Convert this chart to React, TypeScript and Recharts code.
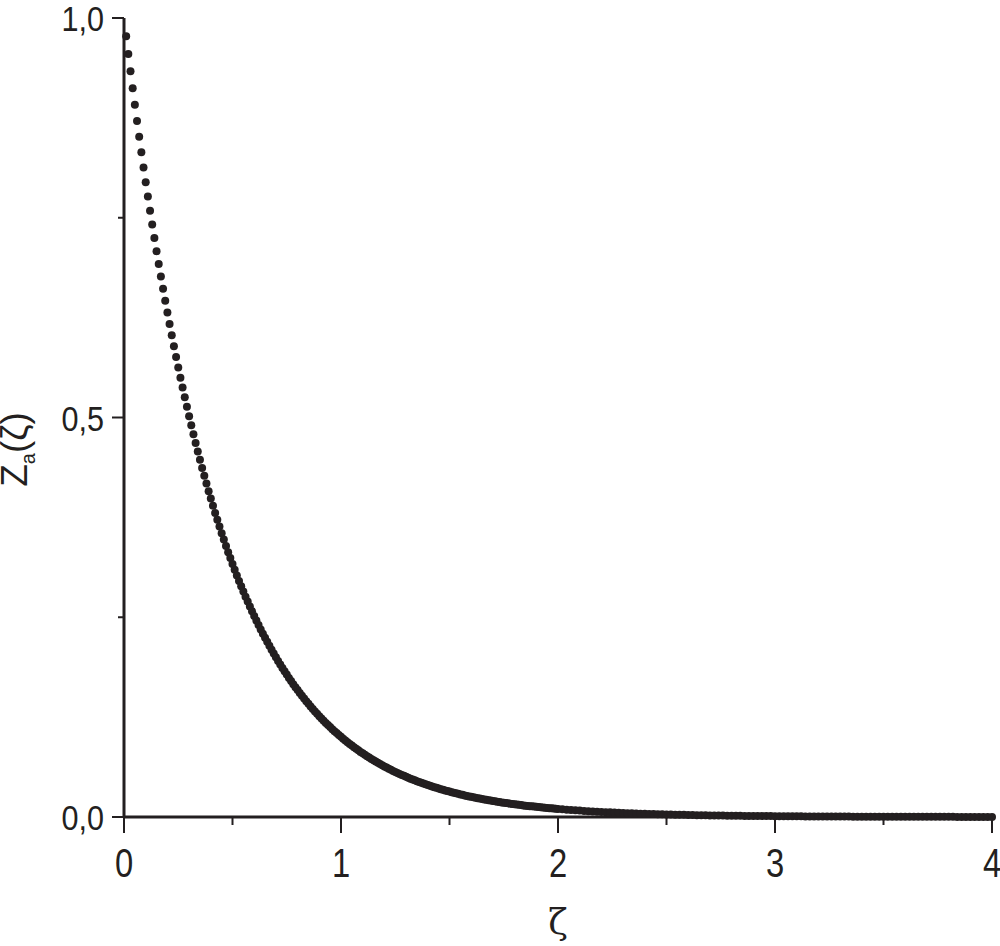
import React from 'react';
import { ScatterChart, Scatter, XAxis, YAxis, Label } from 'recharts';

const INK = '#231f20';
const FONT = '"Liberation Sans", Arial, sans-serif';
const NARROW = 0.82;

// ζ values, step 0.01 on 0.01–2.00
const zetaFine = [
  0.01, 0.02, 0.03, 0.04, 0.05, 0.06, 0.07, 0.08, 0.09, 0.10,
  0.11, 0.12, 0.13, 0.14, 0.15, 0.16, 0.17, 0.18, 0.19, 0.20,
  0.21, 0.22, 0.23, 0.24, 0.25, 0.26, 0.27, 0.28, 0.29, 0.30,
  0.31, 0.32, 0.33, 0.34, 0.35, 0.36, 0.37, 0.38, 0.39, 0.40,
  0.41, 0.42, 0.43, 0.44, 0.45, 0.46, 0.47, 0.48, 0.49, 0.50,
  0.51, 0.52, 0.53, 0.54, 0.55, 0.56, 0.57, 0.58, 0.59, 0.60,
  0.61, 0.62, 0.63, 0.64, 0.65, 0.66, 0.67, 0.68, 0.69, 0.70,
  0.71, 0.72, 0.73, 0.74, 0.75, 0.76, 0.77, 0.78, 0.79, 0.80,
  0.81, 0.82, 0.83, 0.84, 0.85, 0.86, 0.87, 0.88, 0.89, 0.90,
  0.91, 0.92, 0.93, 0.94, 0.95, 0.96, 0.97, 0.98, 0.99, 1.00,
  1.01, 1.02, 1.03, 1.04, 1.05, 1.06, 1.07, 1.08, 1.09, 1.10,
  1.11, 1.12, 1.13, 1.14, 1.15, 1.16, 1.17, 1.18, 1.19, 1.20,
  1.21, 1.22, 1.23, 1.24, 1.25, 1.26, 1.27, 1.28, 1.29, 1.30,
  1.31, 1.32, 1.33, 1.34, 1.35, 1.36, 1.37, 1.38, 1.39, 1.40,
  1.41, 1.42, 1.43, 1.44, 1.45, 1.46, 1.47, 1.48, 1.49, 1.50,
  1.51, 1.52, 1.53, 1.54, 1.55, 1.56, 1.57, 1.58, 1.59, 1.60,
  1.61, 1.62, 1.63, 1.64, 1.65, 1.66, 1.67, 1.68, 1.69, 1.70,
  1.71, 1.72, 1.73, 1.74, 1.75, 1.76, 1.77, 1.78, 1.79, 1.80,
  1.81, 1.82, 1.83, 1.84, 1.85, 1.86, 1.87, 1.88, 1.89, 1.90,
  1.91, 1.92, 1.93, 1.94, 1.95, 1.96, 1.97, 1.98, 1.99, 2.00,
];
const zaFine = [
  0.9773, 0.9550, 0.9333, 0.9121, 0.8914, 0.8711, 0.8513, 0.8319, 0.8130, 0.7945,
  0.7765, 0.7588, 0.7416, 0.7247, 0.7082, 0.6921, 0.6764, 0.6610, 0.6460, 0.6313,
  0.6169, 0.6029, 0.5892, 0.5758, 0.5627, 0.5499, 0.5374, 0.5252, 0.5133, 0.5016,
  0.4902, 0.4790, 0.4681, 0.4575, 0.4471, 0.4369, 0.4270, 0.4173, 0.4078, 0.3985,
  0.3895, 0.3806, 0.3720, 0.3635, 0.3552, 0.3472, 0.3393, 0.3315, 0.3240, 0.3166,
  0.3094, 0.3024, 0.2955, 0.2888, 0.2822, 0.2758, 0.2696, 0.2634, 0.2574, 0.2516,
  0.2459, 0.2403, 0.2348, 0.2295, 0.2243, 0.2192, 0.2142, 0.2093, 0.2045, 0.1999,
  0.1953, 0.1909, 0.1866, 0.1823, 0.1782, 0.1741, 0.1702, 0.1663, 0.1625, 0.1588,
  0.1552, 0.1517, 0.1483, 0.1449, 0.1416, 0.1384, 0.1353, 0.1321, 0.1291, 0.1262,
  0.1233, 0.1205, 0.1178, 0.1151, 0.1125, 0.1099, 0.1074, 0.1050, 0.1026, 0.1003,
  0.0980, 0.0958, 0.0936, 0.0915, 0.0894, 0.0873, 0.0854, 0.0834, 0.0815, 0.0797,
  0.0779, 0.0761, 0.0744, 0.0727, 0.0710, 0.0694, 0.0678, 0.0663, 0.0648, 0.0633,
  0.0619, 0.0605, 0.0591, 0.0577, 0.0564, 0.0551, 0.0539, 0.0527, 0.0515, 0.0503,
  0.0492, 0.0480, 0.0469, 0.0459, 0.0448, 0.0438, 0.0428, 0.0418, 0.0409, 0.0400,
  0.0391, 0.0382, 0.0373, 0.0365, 0.0356, 0.0348, 0.0340, 0.0332, 0.0325, 0.0318,
  0.0310, 0.0303, 0.0296, 0.0290, 0.0283, 0.0277, 0.0270, 0.0264, 0.0258, 0.0252,
  0.0247, 0.0241, 0.0235, 0.0230, 0.0225, 0.0220, 0.0215, 0.0210, 0.0205, 0.0200,
  0.0196, 0.0191, 0.0187, 0.0183, 0.0179, 0.0175, 0.0171, 0.0167, 0.0163, 0.0159,
  0.0156, 0.0152, 0.0149, 0.0145, 0.0142, 0.0139, 0.0136, 0.0133, 0.0130, 0.0127,
  0.0124, 0.0121, 0.0118, 0.0115, 0.0113, 0.0110, 0.0108, 0.0105, 0.0103, 0.0101,
];

// ζ values, step 0.02 on the flat tail 2.02–4.00
const zetaCoarse = [
  2.02, 2.04, 2.06, 2.08, 2.10, 2.12, 2.14, 2.16, 2.18, 2.20,
  2.22, 2.24, 2.26, 2.28, 2.30, 2.32, 2.34, 2.36, 2.38, 2.40,
  2.42, 2.44, 2.46, 2.48, 2.50, 2.52, 2.54, 2.56, 2.58, 2.60,
  2.62, 2.64, 2.66, 2.68, 2.70, 2.72, 2.74, 2.76, 2.78, 2.80,
  2.82, 2.84, 2.86, 2.88, 2.90, 2.92, 2.94, 2.96, 2.98, 3.00,
  3.02, 3.04, 3.06, 3.08, 3.10, 3.12, 3.14, 3.16, 3.18, 3.20,
  3.22, 3.24, 3.26, 3.28, 3.30, 3.32, 3.34, 3.36, 3.38, 3.40,
  3.42, 3.44, 3.46, 3.48, 3.50, 3.52, 3.54, 3.56, 3.58, 3.60,
  3.62, 3.64, 3.66, 3.68, 3.70, 3.72, 3.74, 3.76, 3.78, 3.80,
  3.82, 3.84, 3.86, 3.88, 3.90, 3.92, 3.94, 3.96, 3.98, 4.00,
];
const zaCoarse = [
  0.0096, 0.0092, 0.0088, 0.0084, 0.0080, 0.0076, 0.0073, 0.0070, 0.0066, 0.0064,
  0.0061, 0.0058, 0.0055, 0.0053, 0.0050, 0.0048, 0.0046, 0.0044, 0.0042, 0.0040,
  0.0038, 0.0037, 0.0035, 0.0033, 0.0032, 0.0030, 0.0029, 0.0028, 0.0027, 0.0025,
  0.0024, 0.0023, 0.0022, 0.0021, 0.0020, 0.0019, 0.0018, 0.0018, 0.0017, 0.0016,
  0.0015, 0.0015, 0.0014, 0.0013, 0.0013, 0.0012, 0.0012, 0.0011, 0.0011, 0.0010,
  0.0010, 0.0009, 0.0009, 0.0008, 0.0008, 0.0008, 0.0007, 0.0007, 0.0007, 0.0006,
  0.0006, 0.0006, 0.0006, 0.0005, 0.0005, 0.0005, 0.0005, 0.0004, 0.0004, 0.0004,
  0.0004, 0.0004, 0.0004, 0.0003, 0.0003, 0.0003, 0.0003, 0.0003, 0.0003, 0.0003,
  0.0002, 0.0002, 0.0002, 0.0002, 0.0002, 0.0002, 0.0002, 0.0002, 0.0002, 0.0002,
  0.0002, 0.0001, 0.0001, 0.0001, 0.0001, 0.0001, 0.0001, 0.0001, 0.0001, 0.0001,
];

const xTicks = [0, 0.5, 1, 1.5, 2, 2.5, 3, 3.5, 4];
const xTickLabels = ['0', '', '1', '', '2', '', '3', '', '4'];
const yTicks = [0, 0.25, 0.5, 0.75, 1];
const yTickLabels = ['0,0', '', '0,5', '', '1,0'];

const data = [
  ...zetaFine.map((x, i) => ({ x, y: zaFine[i] })),
  ...zetaCoarse.map((x, i) => ({ x, y: zaCoarse[i] })),
];

const xLabelOf = (v: number) => xTickLabels[xTicks.indexOf(v)] ?? '';
const yLabelOf = (v: number) => yTickLabels[yTicks.indexOf(v)] ?? '';

const BottomTick = (props: any) => {
  const { x, y, payload } = props;
  const label = xLabelOf(payload.value);
  const major = label !== '';
  return (
    <g>
      <line x1={x} x2={x} y1={y} y2={y + (major ? 16 : 8)} stroke={INK} strokeWidth={2} />
      {major && (
        <text
          transform={`translate(${x},${y + 60}) scale(${NARROW},1)`}
          textAnchor="middle"
          fontSize={40}
          fontFamily={FONT}
          fill={INK}
        >
          {label}
        </text>
      )}
    </g>
  );
};

const TopTick = (props: any) => {
  const { x, y, payload } = props;
  const major = xLabelOf(payload.value) !== '';
  return <line x1={x} x2={x} y1={y} y2={y + (major ? 16 : 8)} stroke={INK} strokeWidth={2} />;
};

const LeftTick = (props: any) => {
  const { x, y, payload } = props;
  const label = yLabelOf(payload.value);
  const major = label !== '';
  return (
    <g>
      <line x1={x - (major ? 12 : 6)} x2={x} y1={y} y2={y} stroke={INK} strokeWidth={2} />
      {major && (
        <text
          transform={`translate(${x - 20},${y + 13}) scale(${NARROW + 0.03},1)`}
          textAnchor="end"
          fontSize={36}
          fontFamily={FONT}
          fill={INK}
        >
          {label}
        </text>
      )}
    </g>
  );
};

const RightTick = (props: any) => {
  const { x, y, payload } = props;
  const major = yLabelOf(payload.value) !== '';
  return <line x1={x - (major ? 12 : 6)} x2={x} y1={y} y2={y} stroke={INK} strokeWidth={2} />;
};

const Dot = (props: any) => <circle cx={props.cx} cy={props.cy} r={4} fill={INK} />;

const axisLine = { stroke: INK, strokeWidth: 3 };

export default function App() {
  return (
    <div style={{ position: 'absolute', left: 0, top: 0, width: 1000, height: 946, background: '#fff' }}>
      <ScatterChart width={1000} height={946} margin={{ top: 18, right: 8, bottom: 0, left: 0 }}>
        <XAxis
          xAxisId="b"
          dataKey="x"
          type="number"
          domain={[0, 4]}
          ticks={xTicks}
          interval={0}
          height={129}
          tickSize={0}
          tickMargin={0}
          tickLine={false}
          axisLine={axisLine}
          tick={<BottomTick />}
        >
          <Label
            content={(p: any) => {
              const vb = p.viewBox || { x: 124, y: 817, width: 868 };
              return (
                <text
                  x={vb.x + vb.width / 2}
                  y={vb.y + 117}
                  textAnchor="middle"
                  fontSize={36}
                  fontFamily='"DejaVu Serif", serif'
                  fill={INK}
                >
                  ζ
                </text>
              );
            }}
          />
        </XAxis>
        <XAxis
          xAxisId="t"
          orientation="top"
          type="number"
          dataKey="x"
          domain={[0, 4]}
          ticks={xTicks}
          interval={0}
          height={0}
          tickSize={0}
          tickMargin={0}
          tickLine={false}
          axisLine={axisLine}
          tick={<TopTick />}
        />
        <YAxis
          yAxisId="l"
          dataKey="y"
          type="number"
          domain={[0, 1]}
          ticks={yTicks}
          interval={0}
          width={124}
          tickSize={0}
          tickMargin={0}
          tickLine={false}
          axisLine={axisLine}
          tick={<LeftTick />}
        >
          <Label
            content={(p: any) => {
              const vb = p.viewBox || { x: 0, y: 18, height: 799 };
              const cx = 27;
              const cy = vb.y + vb.height / 2 + 32;
              return (
                <text
                  transform={`translate(${cx},${cy}) rotate(-90)`}
                  textAnchor="middle"
                  fontSize={37}
                  fontFamily={FONT}
                  fill={INK}
                >
                  <tspan>Z</tspan>
                  <tspan fontSize={20} dy={8}>a</tspan>
                  <tspan dy={-8}>(ζ)</tspan>
                </text>
              );
            }}
          />
        </YAxis>
        <YAxis
          yAxisId="r"
          orientation="right"
          dataKey="y"
          type="number"
          domain={[0, 1]}
          ticks={yTicks}
          interval={0}
          width={0}
          tickSize={0}
          tickMargin={0}
          tickLine={false}
          axisLine={{ stroke: INK, strokeWidth: 2.5 }}
          tick={<RightTick />}
        />
        <Scatter
          data={data}
          xAxisId="b"
          yAxisId="l"
          dataKey="y"
          fill={INK}
          shape={<Dot />}
          isAnimationActive={false}
        />
        <Scatter data={[]} xAxisId="t" yAxisId="r" dataKey="y" isAnimationActive={false} />
      </ScatterChart>
    </div>
  );
}
